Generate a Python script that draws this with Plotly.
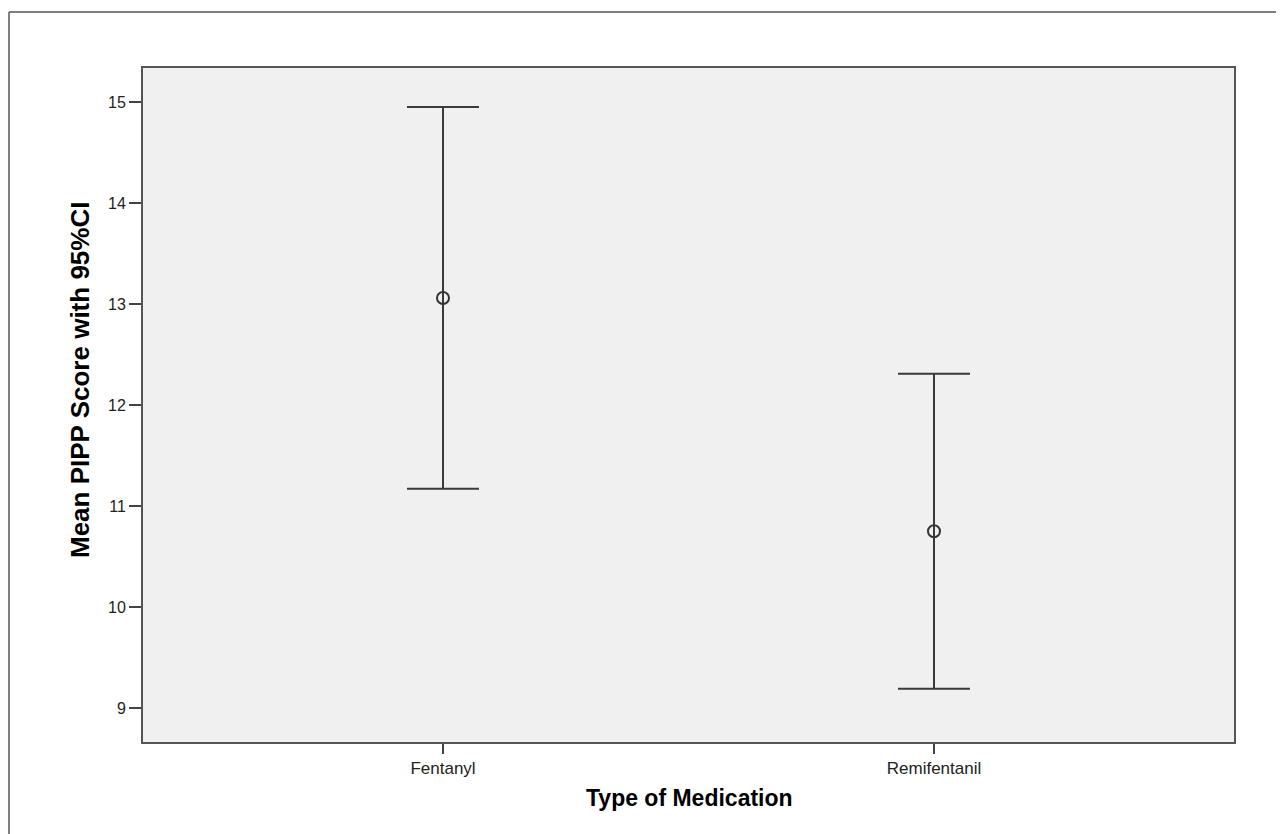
import plotly.graph_objects as go

# Data
categories = ["Fentanyl", "Remifentanil"]
means = [13.06, 10.75]
ci_upper = [14.95, 12.31]
ci_lower = [11.17, 9.19]
y_ticks = [9, 10, 11, 12, 13, 14, 15]

err_plus = [u - m for u, m in zip(ci_upper, means)]
err_minus = [m - l for m, l in zip(means, ci_lower)]

# The page body has an 8px margin, so the figure is drawn at (8, 8).
OFF = 8
W, H = 1284 - OFF, 834 - OFF
L, T = 143 - OFF, 68 - OFF
pw, ph = 1091, 674
R, B = W - L - pw, H - T - ph


def px_x(p):
    # p: page pixel x
    return (p - OFF - L) / pw


def px_y(p):
    # p: page pixel y
    return (T + ph - (p - OFF)) / ph


fig = go.Figure()
fig.add_trace(go.Scatter(
    x=categories,
    y=means,
    mode="markers",
    marker=dict(symbol="circle-open", size=12, color="#333333",
                line=dict(width=2, color="#333333")),
    error_y=dict(type="data", symmetric=False, array=err_plus,
                 arrayminus=err_minus, color="#3a3a3a", thickness=2,
                 width=36),
    showlegend=False,
    hoverinfo="skip",
))

fig.update_layout(
    width=W, height=H,
    margin=dict(l=L, r=R, t=T, b=B, pad=0),
    paper_bgcolor="white",
    plot_bgcolor="#f0f0f0",
    font=dict(family="Liberation Sans, Arial, sans-serif", color="#222222"),
    xaxis=dict(
        type="category",
        range=[-0.611, 1.611],
        showgrid=False, zeroline=False,
        showline=True, mirror=True, linecolor="#555555", linewidth=2,
        ticks="outside", ticklen=10, tickwidth=2, tickcolor="#444444",
        tickfont=dict(size=17, color="#222222"),
    ),
    yaxis=dict(
        range=[8.663, 15.337],
        tickvals=y_ticks,
        showgrid=False, zeroline=False,
        showline=True, mirror=True, linecolor="#555555", linewidth=2,
        ticks="outside", ticklen=12, tickwidth=2, tickcolor="#444444",
        tickfont=dict(size=16, color="#222222"),
    ),
    annotations=[
        dict(text="<b>Mean PIPP Score with 95%CI</b>", textangle=-90,
             xref="paper", yref="paper", x=px_x(80), y=px_y(380),
             xanchor="center", yanchor="middle", showarrow=False,
             font=dict(size=26, color="#000000")),
        dict(text="<b>Type of Medication</b>",
             xref="paper", yref="paper", x=px_x(689), y=px_y(798),
             xanchor="center", yanchor="middle", showarrow=False,
             font=dict(size=23, color="#000000")),
    ],
    shapes=[
        dict(type="line", xref="paper", yref="paper",
             x0=px_x(9), y0=px_y(12), x1=px_x(1300), y1=px_y(12),
             line=dict(color="#555555", width=1.5)),
        dict(type="line", xref="paper", yref="paper",
             x0=px_x(9), y0=px_y(12), x1=px_x(9), y1=px_y(850),
             line=dict(color="#555555", width=1.5)),
    ],
)

fig.write_html("out.html")
